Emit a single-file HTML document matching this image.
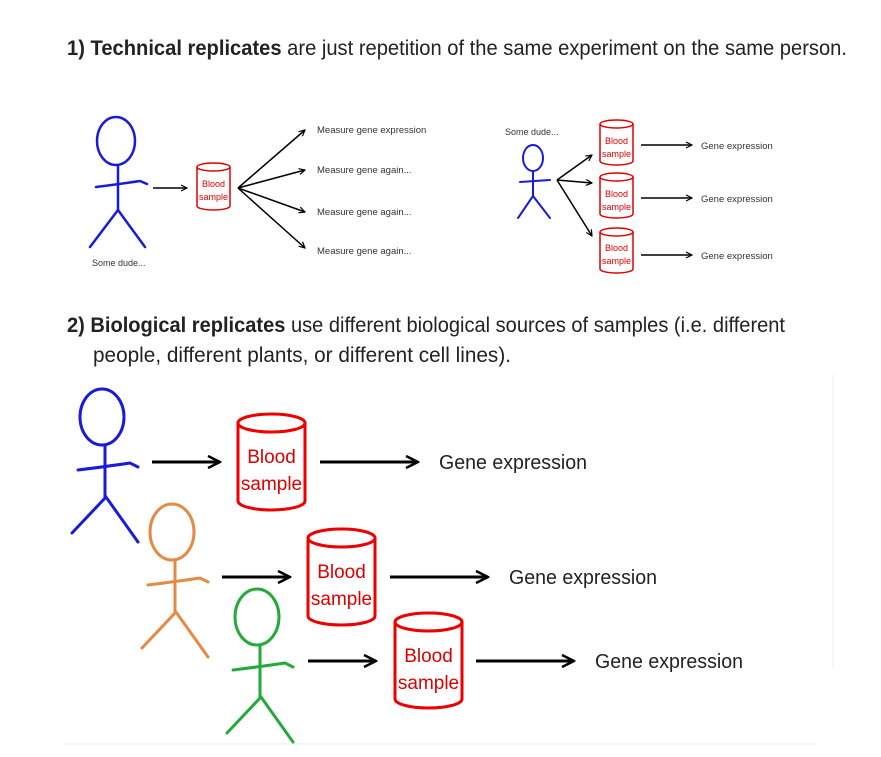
<!DOCTYPE html>
<html><head><meta charset="utf-8"><style>
html,body{margin:0;padding:0;background:#fff;}
svg{display:block;font-family:"Liberation Sans",sans-serif;}
</style></head><body>
<svg width="881" height="757" viewBox="0 0 881 757" xmlns="http://www.w3.org/2000/svg">
<defs>
<marker id="ah" viewBox="0 0 10 10" refX="9" refY="5" markerWidth="5" markerHeight="5" orient="auto" markerUnits="strokeWidth">
<path d="M1,1 L9,5 L1,9" fill="none" stroke="#000" stroke-width="1.6"/>
</marker>
</defs>
<rect width="881" height="757" fill="#fff"/>
<line x1="65" y1="744" x2="815" y2="744" stroke="#e8e8e8" stroke-width="1"/>
<line x1="833" y1="375" x2="833" y2="668" stroke="#ececec" stroke-width="1"/>

<!-- Title 1 -->
<text x="67" y="55" font-size="21" fill="#222" textLength="780" lengthAdjust="spacingAndGlyphs"><tspan font-weight="bold">1)  Technical replicates</tspan> are just repetition of the same experiment on the same person.</text>

<!-- Section 1 left -->
<g fill="none" stroke="#1a1adb" stroke-width="2.5" stroke-linecap="round">
<ellipse cx="116" cy="141" rx="19" ry="24"/>
<line x1="118" y1="165" x2="118" y2="210"/>
<path d="M96,187 Q120,184 140,181 L147,184"/>
<path d="M90,247 L118,210 L145,247"/>
</g>
<text x="92" y="266" font-size="9" fill="#333">Some dude...</text>
<line x1="153" y1="188" x2="187" y2="188" stroke="#000" stroke-width="1.5" marker-end="url(#ah)"/>
<g fill="#fff" stroke="#d00" stroke-width="1.5">
<path d="M197,167 L197,206 A16.5,4 0 0 0 230,206 L230,167"/>
<ellipse cx="213.5" cy="167" rx="16.5" ry="4"/>
</g>
<text x="213.5" y="187" font-size="9" fill="#d00" text-anchor="middle">Blood</text>
<text x="213.5" y="200" font-size="9" fill="#d00" text-anchor="middle">sample</text>
<g stroke="#000" stroke-width="1.5" marker-end="url(#ah)">
<line x1="238" y1="188" x2="305" y2="130"/>
<line x1="238" y1="188" x2="305" y2="170"/>
<line x1="238" y1="188" x2="305" y2="212"/>
<line x1="238" y1="188" x2="305" y2="248"/>
</g>
<g font-size="9.5" fill="#333">
<text x="317" y="133">Measure gene expression</text>
<text x="317" y="173">Measure gene again...</text>
<text x="317" y="215">Measure gene again...</text>
<text x="317" y="254">Measure gene again...</text>
</g>

<!-- Section 1 right -->
<text x="505" y="135" font-size="9" fill="#333">Some dude...</text>
<g fill="none" stroke="#1a1adb" stroke-width="2" stroke-linecap="round">
<ellipse cx="533" cy="158" rx="10" ry="13"/>
<line x1="533" y1="171" x2="533" y2="196"/>
<path d="M520,182 L550,180"/>
<path d="M518,218 L533,196 L550,218"/>
</g>
<g stroke="#000" stroke-width="1.5" marker-end="url(#ah)">
<line x1="557" y1="180" x2="592" y2="155"/>
<line x1="557" y1="180" x2="592" y2="183"/>
<line x1="557" y1="180" x2="592" y2="236"/>
</g>
<g fill="#fff" stroke="#d00" stroke-width="1.5">
<path d="M600,124 L600,161 A16.5,4 0 0 0 633,161 L633,124"/><ellipse cx="616.5" cy="124" rx="16.5" ry="4"/>
<path d="M600,177 L600,214 A16.5,4 0 0 0 633,214 L633,177"/><ellipse cx="616.5" cy="177" rx="16.5" ry="4"/>
<path d="M600,232 L600,269 A16.5,4 0 0 0 633,269 L633,232"/><ellipse cx="616.5" cy="232" rx="16.5" ry="4"/>
</g>
<g font-size="9" fill="#d00" text-anchor="middle">
<text x="616.5" y="144">Blood</text><text x="616.5" y="157">sample</text>
<text x="616.5" y="197">Blood</text><text x="616.5" y="210">sample</text>
<text x="616.5" y="251">Blood</text><text x="616.5" y="264">sample</text>
</g>
<g stroke="#000" stroke-width="1.5" marker-end="url(#ah)">
<line x1="641" y1="145" x2="692" y2="145"/>
<line x1="641" y1="198" x2="692" y2="198"/>
<line x1="641" y1="255" x2="692" y2="255"/>
</g>
<g font-size="9.5" fill="#333">
<text x="701" y="149">Gene expression</text>
<text x="701" y="202">Gene expression</text>
<text x="701" y="259">Gene expression</text>
</g>

<!-- Title 2 -->
<text x="67" y="332" font-size="21" fill="#222" textLength="718" lengthAdjust="spacingAndGlyphs"><tspan font-weight="bold">2)  Biological replicates</tspan> use different biological sources of samples (i.e. different</text>
<text x="93" y="362" font-size="21" fill="#222" textLength="418" lengthAdjust="spacingAndGlyphs">people, different plants, or different cell lines).</text>

<!-- Section 2 figures -->
<g fill="none" stroke-width="3" stroke-linecap="round">
<g stroke="#1a1adb">
<ellipse cx="102" cy="417" rx="22" ry="28"/>
<line x1="105" y1="445" x2="105" y2="497"/>
<path d="M78,470 Q110,466 130,463 L138,467"/>
<path d="M72,533 L106,497 L138,542"/>
</g>
<g stroke="#e58a45" transform="translate(70,115)">
<ellipse cx="102" cy="417" rx="22" ry="28"/>
<line x1="105" y1="445" x2="105" y2="497"/>
<path d="M78,470 Q110,466 130,463 L138,467"/>
<path d="M72,533 L106,497 L138,542"/>
</g>
<g stroke="#22aa3a" transform="translate(155,200)">
<ellipse cx="102" cy="417" rx="22" ry="28"/>
<line x1="105" y1="445" x2="105" y2="497"/>
<path d="M78,470 Q110,466 130,463 L138,467"/>
<path d="M72,533 L106,497 L138,542"/>
</g>
</g>
<g fill="#fff" stroke="#e00" stroke-width="3">
<path d="M238,423 L238,501 A33.5,9 0 0 0 305,501 L305,423"/><ellipse cx="271.5" cy="423" rx="33.5" ry="9"/>
<path d="M308,538 L308,616 A33.5,9 0 0 0 375,616 L375,538"/><ellipse cx="341.5" cy="538" rx="33.5" ry="9"/>
<path d="M395,622 L395,699 A33.5,9 0 0 0 462,699 L462,622"/><ellipse cx="428.5" cy="622" rx="33.5" ry="9"/>
</g>
<g font-size="19" fill="#d00" text-anchor="middle">
<text x="271.5" y="463">Blood</text><text x="271.5" y="490">sample</text>
<text x="341.5" y="578">Blood</text><text x="341.5" y="605">sample</text>
<text x="428.5" y="662">Blood</text><text x="428.5" y="689">sample</text>
</g>
<g stroke="#000" stroke-width="3" marker-end="url(#ah)">
<line x1="152" y1="462" x2="220" y2="462"/>
<line x1="320" y1="462" x2="418" y2="462"/>
<line x1="222" y1="577" x2="290" y2="577"/>
<line x1="390" y1="577" x2="488" y2="577"/>
<line x1="308" y1="661" x2="376" y2="661"/>
<line x1="476" y1="661" x2="574" y2="661"/>
</g>
<g font-size="20" fill="#222">
<text x="439" y="469" textLength="148" lengthAdjust="spacingAndGlyphs">Gene expression</text>
<text x="509" y="584" textLength="148" lengthAdjust="spacingAndGlyphs">Gene expression</text>
<text x="595" y="668" textLength="148" lengthAdjust="spacingAndGlyphs">Gene expression</text>
</g>
</svg>
</body></html>
